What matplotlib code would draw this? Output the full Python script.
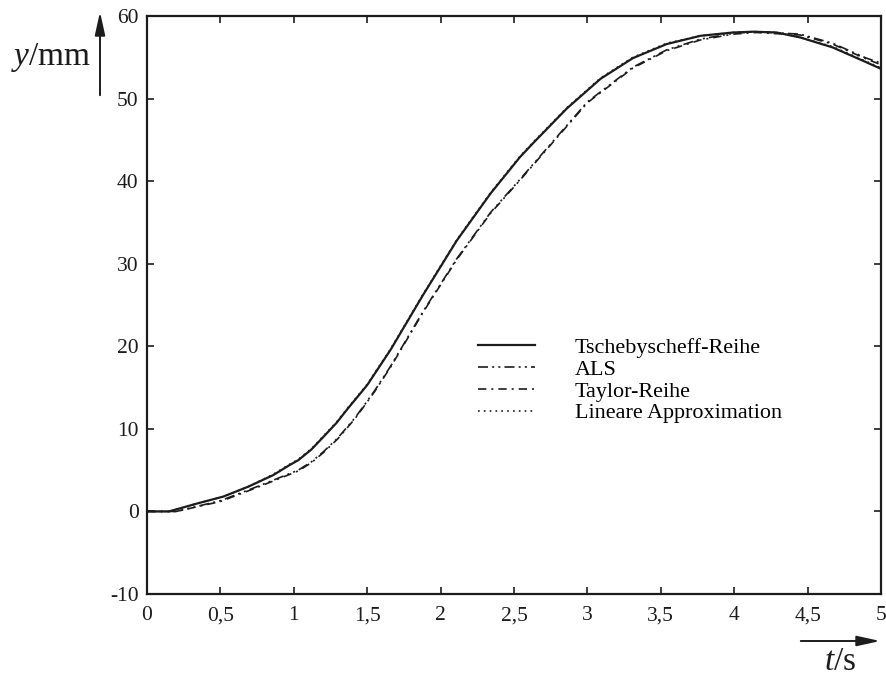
import numpy as np
import matplotlib
matplotlib.use('Agg')
import matplotlib.pyplot as plt
from matplotlib.patches import FancyArrowPatch

plt.rcParams['font.family'] = ['Liberation Serif', 'DejaVu Serif']
plt.rcParams['mathtext.fontset'] = 'custom'
plt.rcParams['mathtext.it'] = 'Liberation Serif:italic'
plt.rcParams['mathtext.rm'] = 'Liberation Serif'

# Tschebyscheff-Reihe
t_cheb = [0, 0.15, 0.35, 0.52, 0.69, 0.86, 0.97, 1.03, 1.12, 1.2, 1.29, 1.37, 1.5, 1.66, 1.88,
          2.11, 2.34, 2.54, 2.63, 2.86, 3.09, 3.31, 3.54, 3.77, 3.99, 4.13, 4.29,
          4.45, 4.67, 4.9, 5.0]
y_cheb = [0, 0, 1.0, 1.8, 3.0, 4.4, 5.6, 6.2, 7.5, 9.0, 10.7, 12.5, 15.3, 19.6, 26.2,
          32.8, 38.5, 42.9, 44.6, 48.8, 52.4, 54.9, 56.6, 57.6, 58.0, 58.1, 58.0,
          57.4, 56.2, 54.4, 53.6]
# Lineare Approximation (fast deckungsgleich)
y_lin = [0, 0, 1.0, 1.8, 3.0, 4.5, 5.7, 6.3, 7.6, 9.1, 10.8, 12.6, 15.4, 19.7, 26.3,
         32.9, 38.6, 43.0, 44.7, 48.9, 52.5, 55.0, 56.7, 57.6, 58.0, 58.1, 58.0,
         57.4, 56.3, 54.5, 53.7]

# ALS und Taylor-Reihe
t_als = [0, 0.2, 0.5, 0.75, 1.03, 1.12, 1.2, 1.3, 1.42, 1.55, 1.66, 1.88, 2.11, 2.34, 2.54, 2.75,
         3.0, 3.31, 3.54, 3.77, 3.99, 4.15, 4.45, 4.67, 4.9, 5.0]
y_als = [0, 0, 1.3, 3.0, 5.0, 6.0, 7.2, 8.9, 11.4, 14.6, 17.6, 24.2, 30.6, 36.2, 40.2, 44.5,
         49.6, 53.8, 55.9, 57.2, 57.9, 58.1, 57.8, 56.7, 54.9, 54.3]
y_taylor = [0, 0, 1.2, 2.9, 4.9, 5.9, 7.1, 8.8, 11.3, 14.5, 17.5, 24.1, 30.5, 36.1, 40.1, 44.4,
            49.5, 53.7, 55.8, 57.1, 57.8, 58.0, 57.7, 56.6, 54.8, 54.1]

labels = ['Tschebyscheff-Reihe', 'ALS', 'Taylor-Reihe', 'Lineare Approximation']
xticklabels = ['0', '0,5', '1', '1,5', '2', '2,5', '3', '3,5', '4', '4,5', '5']
yticklabels = ['-10', '0', '10', '20', '30', '40', '50', '60']

ink = '#1c1c1c'

fig = plt.figure(figsize=(8.86, 6.79), dpi=100)
ax = fig.add_axes([147 / 886, 1 - 594 / 679, (881 - 147) / 886, (594 - 16) / 679])

ax.plot(t_cheb, y_cheb, color=ink, lw=1.6, ls='-', label=labels[0])
ax.plot(t_als, y_als, color=ink, lw=1.2, ls=(0, (6, 2.5, 1.2, 2.5, 1.2, 2.5)), label=labels[1])
ax.plot(t_als, y_taylor, color=ink, lw=1.2, ls=(0, (5, 3, 1.2, 3)), label=labels[2])
ax.plot(t_cheb, y_lin, color=ink, lw=1.2, ls=(0, (1, 2.5)), label=labels[3])

ax.set_xlim(0, 5)
ax.set_ylim(-10, 60)
ax.set_xticks(np.arange(0, 5.01, 0.5))
ax.set_xticklabels(xticklabels)
ax.set_yticks(np.arange(-10, 61, 10))
ax.set_yticklabels(yticklabels)
ax.tick_params(direction='in', top=True, right=True, length=5, width=1.2,
               labelsize=15.5, colors=ink)
ax.tick_params(axis='y', pad=6)
ax.tick_params(axis='x', pad=9)
for s in ax.spines.values():
    s.set_linewidth(1.6)
    s.set_color(ink)

ax.legend(loc='upper left', bbox_to_anchor=(0.4235, 0.478), frameon=False,
          fontsize=15.9, handlelength=2.6, handletextpad=1.8, labelspacing=0.06)

# Achsenbeschriftungen mit Pfeilen
fig.text(11 / 886, 1 - 65 / 679, r'$y$/mm', fontsize=24, va='baseline', ha='left', color=ink)
fig.add_artist(FancyArrowPatch((100 / 886, 1 - 98 / 679), (100 / 886, 1 - 9 / 679),
                               transform=fig.transFigure, arrowstyle='-|>,head_length=1.0,head_width=0.22',
                               mutation_scale=14, lw=1.4, color=ink))
fig.text(824 / 886, 1 - 670 / 679, r'$t$/s', fontsize=24, va='baseline', ha='left', color=ink)
fig.add_artist(FancyArrowPatch((798 / 886, 1 - 641 / 679), (883 / 886, 1 - 641 / 679),
                               transform=fig.transFigure, arrowstyle='-|>,head_length=1.0,head_width=0.22',
                               mutation_scale=14, lw=1.4, color=ink))

fig.savefig('out.png', dpi=100)
